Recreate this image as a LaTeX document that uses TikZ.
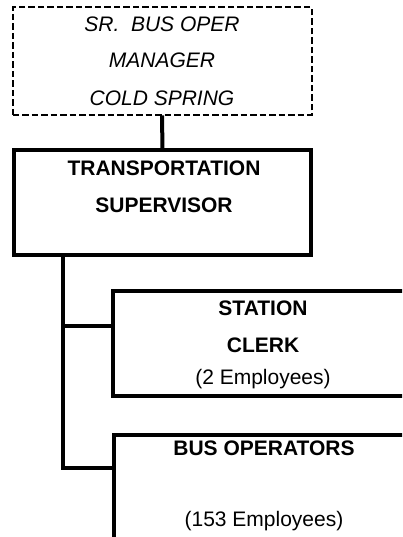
\documentclass[tikz,border=0pt]{standalone}
\usepackage{fontspec}
\setmainfont{Liberation Sans}
\usetikzlibrary{positioning}

\begin{document}
\begin{tikzpicture}[x=1pt,y=-1pt,
        box/.style={draw,line width=4.5pt,inner sep=0pt,outer sep=0pt,anchor=north west},
        mgrbox/.style={draw,line width=2pt,dash pattern=on 6.5pt off 3pt,inner sep=0pt,outer sep=0pt,anchor=north west},
        mgrtext/.style={font=\fontsize{21}{24}\selectfont\itshape,anchor=base,inner sep=0pt},
        title/.style={font=\fontsize{21}{24}\selectfont\bfseries,anchor=base,inner sep=0pt},
        count/.style={font=\fontsize{21}{24}\selectfont,anchor=base,inner sep=0pt},
        link/.style={draw,line width=4pt}]
        \useasboundingbox (0,0) rectangle (402,537);
        \clip (0,0) rectangle (402,537);
        % boxes
        \node[mgrbox,minimum width=299pt,minimum height=108pt] (mgr) at (12.5,7.5) {};
        \node[box,minimum width=297pt,minimum height=105pt] (sup) at (14,150) {};
        \node[box,minimum width=320pt,minimum height=105pt] (clerk) at (113,291) {};
        \node[box,minimum width=320pt,minimum height=200pt] (busop) at (114,435) {};
        % texts
        \node[mgrtext] (mgr1) at (162,32) {SR.\ \ BUS OPER};
        \node[mgrtext] (mgr2) at (162,68) {MANAGER};
        \node[mgrtext] (mgr3) at (162,106) {COLD SPRING};
        \node[title] (sup1) at (164,176) {TRANSPORTATION};
        \node[title] (sup2) at (164,212) {SUPERVISOR};
        \node[title] (clerk1) at (263,315) {STATION};
        \node[title] (clerk2) at (263,352) {CLERK};
        \node[count] (clerk3) at (263,384) {(2 Employees)};
        \node[title] (busop1) at (264,455) {BUS OPERATORS};
        \node[count] (busop2) at (264,526) {(153 Employees)};
        % connectors
        \coordinate (trunk) at (63,255);
        \coordinate (clerkin) at (113,326);
        \coordinate (busin) at (114,468);
        \draw[link] (mgr.south) -- (sup.north);
        \draw[link] (trunk) |- (busin);
        \draw[link] (trunk |- clerkin) -- (clerkin);
\end{tikzpicture}
\end{document}
